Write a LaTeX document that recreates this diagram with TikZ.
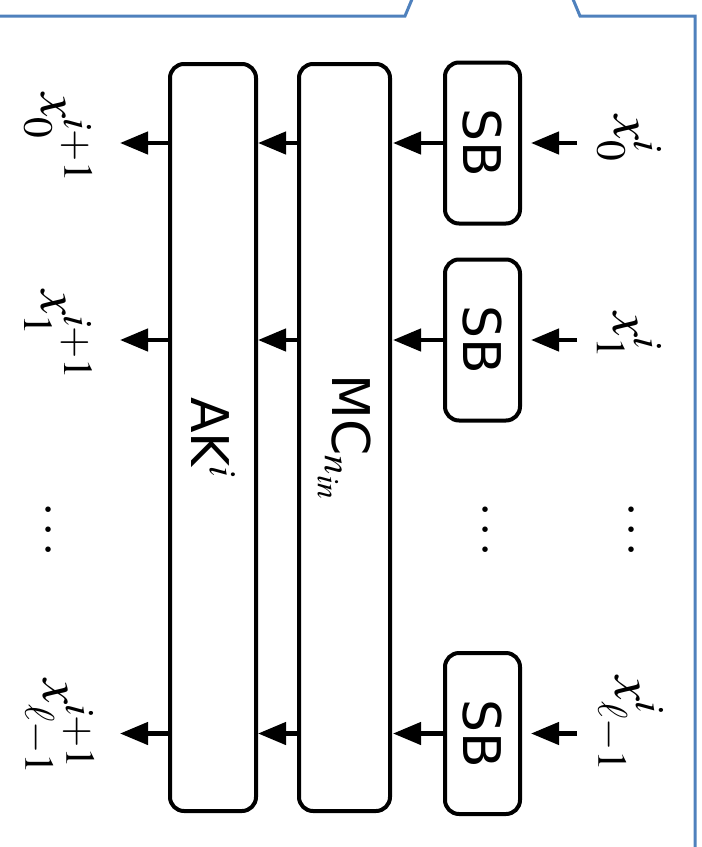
\documentclass[tikz,border=0pt]{standalone}
\usepackage{fix-cm}
\usepackage{mathptmx}
\usepackage{fontspec}
\setmainfont{Latin Modern Roman}
\setsansfont{DejaVu Sans}
\usetikzlibrary{arrows.meta}
\definecolor{frameblue}{RGB}{79,129,189}
\begin{document}
\begin{tikzpicture}[x=1pt,y=-1pt,
  box/.style={draw, line width=4pt, rounded corners=14pt, inner sep=0pt,
    font=\sffamily\fontsize{52}{60}\selectfont},
  arr/.style={line width=4.5pt, -{Triangle[length=28pt,width=22pt]}},
  mlab/.style={rotate=-90, inner sep=0pt, font=\fontsize{56}{62}\selectfont},
  dotlab/.style={rotate=-90, inner sep=0pt, font=\fontsize{52}{60}\selectfont},
  frame/.style={draw=frameblue, line width=3pt}]
\useasboundingbox (0,0) rectangle (702,847);
% blue callout frame
\draw[frame] (0,16) -- (405,16) -- (412.5,-2);
\draw[frame] (572.5,-2) -- (580,16) -- (695,16) -- (695,849);
% boxes
\node[box, minimum width=75pt, minimum height=161pt] (sb0) at (482.5,143) {\rotatebox{-90}{SB}};
\node[box, minimum width=75pt, minimum height=161pt] (sb1) at (482.5,340) {\rotatebox{-90}{SB}};
\node[box, minimum width=75pt, minimum height=161pt] (sb3) at (482.5,733.5) {\rotatebox{-90}{SB}};
\node[box, minimum width=91pt, minimum height=747pt] (mc) at (344.5,437.5) {\rotatebox{-90}{MC$_{n_{in}}$}};
\node[box, minimum width=86pt, minimum height=747pt] (ak) at (213,437.5) {\rotatebox{-90}{AK$^i$}};
% input labels
\node[mlab] (xi0) at (629,139) {$x_0^i$};
\node[mlab] (xi1) at (629,336) {$x_1^i$};
\node[mlab] (xi3) at (629,724) {$x_{\ell-1}^i$};
% output labels
\node[mlab] (xo0) at (58,138) {$x_0^{i+1}$};
\node[mlab] (xo1) at (58,335) {$x_1^{i+1}$};
\node[mlab] (xo3) at (58,727) {$x_{\ell-1}^{i+1}$};
% dots
\node[dotlab] (d1) at (630,530) {$\cdots$};
\node[dotlab] (d2) at (484,530) {$\cdots$};
\node[dotlab] (d3) at (47,530) {$\cdots$};
% arrow end coordinates
\coordinate (in0) at (577,143);
\coordinate (in1) at (577,340);
\coordinate (in3) at (577,733.5);
\coordinate (out0) at (120,143);
\coordinate (out1) at (120,340);
\coordinate (out3) at (120,733.5);
% arrows
\foreach \r in {0,1,3}{
  \draw[arr, shorten >=9pt] (in\r) -- (sb\r.east);
  \draw[arr, shorten >=1pt] (sb\r.west) -- (mc.east |- sb\r.west);
  \draw[arr] (mc.west |- sb\r.west) -- (ak.east |- sb\r.west);
  \draw[arr] (ak.west |- sb\r.west) -- (out\r);
}
\end{tikzpicture}
\end{document}
